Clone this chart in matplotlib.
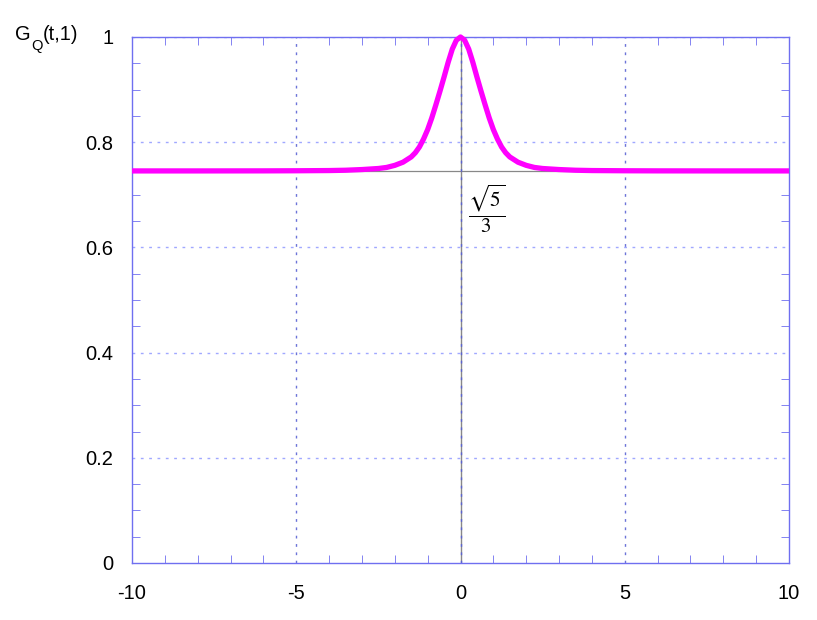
import numpy as np
import matplotlib.pyplot as plt
from matplotlib.ticker import MultipleLocator

# BEGIN: DATA ################################################################
# right half of the peak (curve is symmetric in t)
t_half = [0, 0.125, 0.25, 0.375, 0.5, 0.625, 0.75, 0.875, 1.0, 1.125, 1.25,
          1.375, 1.5, 1.75, 2.0, 2.25, 2.5, 3.0, 3.5, 4.0, 5.0, 6.0, 8.0, 10.0]
g_half = [1.000, 0.994, 0.977, 0.952, 0.924, 0.897, 0.871, 0.846, 0.824,
          0.806, 0.791, 0.780, 0.772, 0.762, 0.756, 0.752, 0.750, 0.748,
          0.7467, 0.7461, 0.7457, 0.7455, 0.7454, 0.7454]
baseline = 0.7454   # sqrt(5)/3
xticks = [-10, -5, 0, 5, 10]
xticklabels = ['-10', '-5', '0', '5', '10']
yticks = [0, 0.2, 0.4, 0.6, 0.8, 1]
yticklabels = ['0', '0.2', '0.4', '0.6', '0.8', '1']
# END:   DATA ################################################################

t = np.concatenate([-np.array(t_half[::-1]), np.array(t_half[1:])])
g = np.concatenate([np.array(g_half[::-1]), np.array(g_half[1:])])

plt.rcParams['font.family'] = ['Liberation Sans', 'DejaVu Sans']

frame_col = '#6f6ff0'
fig = plt.figure(figsize=(8.17, 6.2), dpi=100)
ax = fig.add_axes([132/817, 57/620, 657/817, 526/620])

ax.set_xlim(-10, 10)
ax.set_ylim(0, 1)

# grid
for yv in yticks[1:-1]:
    ax.axhline(yv, color='#a0a8ff', lw=1.0, ls=(0, (2, 4)), zorder=1)
ax.axhline(1, color='#a0a8ff', lw=1.0, ls=(0, (2, 4)), zorder=1)
for xv in [-5, 5]:
    ax.axvline(xv, color='#6c74d8', lw=1.0, ls=(0, (2, 4)), zorder=1)

# reference lines
ax.axhline(baseline, color='#888888', lw=0.9, zorder=2)
ax.axvline(0, color='#888888', lw=1.0, zorder=2)
ax.axvline(0, color='#5a62d0', lw=1.0, ls=(0, (2, 4)), zorder=2)

ax.plot(t, g, color='#ff00ff', lw=3.8, zorder=3, clip_on=False,
        solid_capstyle='butt')

ax.text(0.79, 0.673, r'$\dfrac{\sqrt{5}}{3}$', fontsize=15,
        math_fontfamily='stix', ha='center', va='center')

ax.set_xticks(xticks)
ax.set_xticklabels(xticklabels)
ax.set_yticks(yticks)
ax.set_yticklabels(yticklabels)
ax.xaxis.set_minor_locator(MultipleLocator(1))
ax.yaxis.set_minor_locator(MultipleLocator(0.05))
ax.tick_params(which='both', direction='in', top=True, right=True,
               color=frame_col, labelsize=14.5)
ax.tick_params(which='major', length=0)
ax.tick_params(which='minor', length=6)
ax.tick_params(axis='x', pad=15)
ax.tick_params(axis='y', pad=13.5)
for sp in ax.spines.values():
    sp.set_color(frame_col)
    sp.set_linewidth(1.0)

# y label G_Q(t,1) in three pieces, subscript dropped low like the original
fig.text(15/817, 1 - 35/620, 'G', fontsize=14.5, ha='left', va='center')
fig.text(31/817, 1 - 46/620, 'Q', fontsize=10.5, ha='left', va='center')
fig.text(43/817, 1 - 35/620, '(t,1)', fontsize=14.5, ha='left', va='center')

fig.savefig('out.png', dpi=100)
